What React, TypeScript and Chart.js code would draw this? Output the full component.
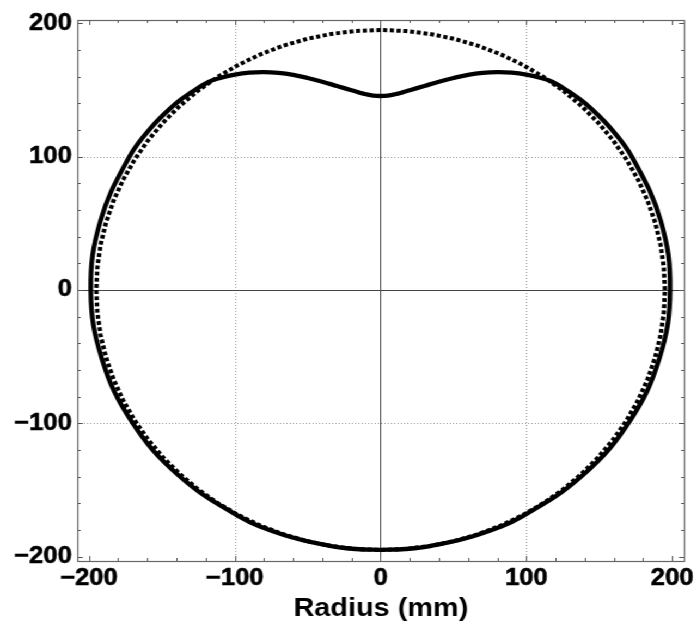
import React, { useEffect, useRef } from "react";
import { Chart, registerables } from "chart.js";

Chart.register(...registerables);

// Axis ticks and guide lines (mm)
const X_TICKS = [-200, -100, 0, 100, 200];
const Y_TICKS = [-200, -100, 0, 100, 200];
const GRID_VALUES = [-100, 100];
const MINOR_STEP = 20;
const X_MIN = -208;
const X_MAX = 208.4;
const Y_MIN = -203.3;
const Y_MAX = 202.5;

// Measured profile in polar form: angle (degrees) and radius (mm)
const PROFILE_ANGLES = [
  -90, -85, -80, -70, -60, -45, -30, -15, 0, 15, 30, 38, 45, 49, 52.89, 55.32, 58.23, 61.09, 63.91, 66.73,
  69.6, 72.54, 75.64, 78.91, 82.4, 84.22, 86.1, 88.04, 90, 91.96, 93.9, 95.78, 97.6, 101.09, 104.36, 107.46,
  110.4, 113.27, 116.09, 118.91, 121.77, 124.68, 127.11, 131, 135, 142, 150, 165, 180, 195, 210, 225, 240,
  250, 260, 265, 270,
];
const PROFILE_RADII = [
  195, 195.05, 195.1, 195.35, 195.6, 196.3, 197.2, 198, 198.6, 199, 199.2, 199, 198.2, 197, 195.6, 193.34,
  189.95, 186.2, 181.93, 177.21, 172.1, 166.68, 161.24, 155.91, 151.13, 148.96, 147.14, 145.88, 145.5,
  145.88, 147.14, 148.96, 151.13, 155.91, 161.24, 166.68, 172.1, 177.21, 181.93, 186.2, 189.95, 193.34,
  195.6, 197, 198.2, 199, 199.2, 199, 198.8, 198, 197.2, 196.3, 195.6, 195.35, 195.1, 195.05, 195,
];

// Reference circle
const CIRCLE_RADIUS = 195;
const CIRCLE_ANGLES = Array.from({ length: 73 }, (_, i) => i * 5);

// Horizontal stretch of the whole figure
const STRETCH = 1.0891;
const CANVAS_W = 640;
const CANVAS_H = 625;

const toXY = (angles: number[], radii: number[]) =>
  angles.map((a, i) => {
    const t = (a * Math.PI) / 180;
    return { x: radii[i] * Math.cos(t), y: radii[i] * Math.sin(t) };
  });

const fmt = (v: number) => (v < 0 ? "\u2212" + Math.abs(v) : String(v));

const FONT = "'Liberation Sans', Arial, Helvetica, sans-serif";

const framePlugin = {
  id: "frameAndGuides",
  beforeDatasetsDraw(chart: any) {
    const { ctx, chartArea } = chart;
    const xs = chart.scales.x;
    const ys = chart.scales.y;
    const { left, right, top, bottom } = chartArea;
    const px = (v: number) => Math.round(xs.getPixelForValue(v)) + 0.5;
    const py = (v: number) => Math.round(ys.getPixelForValue(v)) + 0.5;
    ctx.save();

    // dotted grid
    ctx.strokeStyle = "#9a9a9a";
    ctx.lineWidth = 1;
    ctx.setLineDash([1, 2]);
    GRID_VALUES.forEach((v) => {
      ctx.beginPath();
      ctx.moveTo(px(v), top);
      ctx.lineTo(px(v), bottom);
      ctx.stroke();
      ctx.beginPath();
      ctx.moveTo(left, py(v));
      ctx.lineTo(right, py(v));
      ctx.stroke();
    });
    ctx.setLineDash([]);

    // axes through the origin
    ctx.strokeStyle = "#444";
    ctx.beginPath();
    ctx.moveTo(px(0), top);
    ctx.lineTo(px(0), bottom);
    ctx.moveTo(left, py(0));
    ctx.lineTo(right, py(0));
    ctx.stroke();

    // frame
    ctx.strokeStyle = "#666";
    ctx.lineWidth = 1.2;
    ctx.strokeRect(Math.round(left) + 0.5, Math.round(top) + 0.5, Math.round(right - left), Math.round(bottom - top));

    // inward ticks on all sides
    ctx.lineWidth = 1;
    ctx.strokeStyle = "#555";
    ctx.beginPath();
    for (let v = -200; v <= 200; v += MINOR_STEP) {
      const major = v % 100 === 0;
      const len = major ? 5 : 3;
      const x = px(v);
      ctx.moveTo(x, bottom);
      ctx.lineTo(x, bottom - len);
      ctx.moveTo(x, top);
      ctx.lineTo(x, top + len);
      const y = py(v);
      ctx.moveTo(left, y);
      ctx.lineTo(left + len, y);
      ctx.moveTo(right, y);
      ctx.lineTo(right - len, y);
    }
    ctx.stroke();
    ctx.restore();
  },
};

const tickFont = { family: FONT, size: 23.5, weight: "bold" as const };

export default function App() {
  const canvasRef = useRef<HTMLCanvasElement | null>(null);

  useEffect(() => {
    const canvas = canvasRef.current;
    if (!canvas) return;
    const chart = new Chart(canvas, {
      type: "scatter",
      data: {
        datasets: [
          {
            label: "profile",
            data: toXY(PROFILE_ANGLES, PROFILE_RADII),
            showLine: true,
            borderColor: "#000",
            borderWidth: 4.3,
            tension: 0.4,
            pointRadius: 0,
            fill: false,
            order: 0,
          },
          {
            label: "circle",
            data: toXY(CIRCLE_ANGLES, CIRCLE_ANGLES.map(() => CIRCLE_RADIUS)),
            showLine: true,
            borderColor: "#000",
            borderWidth: 4,
            borderDash: [3.8, 2.4],
            borderCapStyle: "butt",
            tension: 0,
            pointRadius: 0,
            fill: false,
            order: 1,
          },
        ],
      },
      options: {
        responsive: false,
        animation: false,
        devicePixelRatio: 1,
        layout: { padding: { left: 0, right: 10, top: 20, bottom: 0 } },
        plugins: { legend: { display: false }, tooltip: { enabled: false } },
        scales: {
          x: {
            type: "linear",
            min: X_MIN,
            max: X_MAX,
            grid: { display: false, drawTicks: false, tickLength: 0 },
            border: { display: false },
            afterBuildTicks: (s: any) => {
              s.ticks = X_TICKS.map((v) => ({ value: v }));
            },
            afterFit: (s: any) => {
              s.height = 64;
            },
            ticks: {
              padding: 3,
              color: "#000",
              font: tickFont,
              textStrokeColor: "#000",
              textStrokeWidth: 0.6,
              callback: (v: any) => fmt(Number(v)),
              maxRotation: 0,
            },
            title: {
              display: true,
              text: "Radius (mm)",
              color: "#000",
              font: { family: FONT, size: 26.5, weight: "bold" },
              padding: { top: 0, bottom: 0 },
            },
          },
          y: {
            type: "linear",
            min: Y_MIN,
            max: Y_MAX,
            grid: { display: false, drawTicks: false, tickLength: 0 },
            border: { display: false },
            afterBuildTicks: (s: any) => {
              s.ticks = Y_TICKS.map((v) => ({ value: v }));
            },
            afterFit: (s: any) => {
              s.width = 71;
            },
            ticks: {
              padding: 5,
              color: "#000",
              font: tickFont,
              textStrokeColor: "#000",
              textStrokeWidth: 0.6,
              callback: (v: any) => fmt(Number(v)),
            },
          },
        },
      },
      plugins: [framePlugin],
    });
    return () => chart.destroy();
  }, []);

  return (
    <div
      style={{
        position: "fixed",
        left: 0,
        top: 0,
        width: CANVAS_W,
        height: CANVAS_H,
        background: "#fff",
        transform: `scaleX(${STRETCH})`,
        transformOrigin: "0 0",
      }}
    >
      <canvas
        ref={canvasRef}
        width={CANVAS_W}
        height={CANVAS_H}
        style={{ width: CANVAS_W, height: CANVAS_H, display: "block" }}
      />
    </div>
  );
}
